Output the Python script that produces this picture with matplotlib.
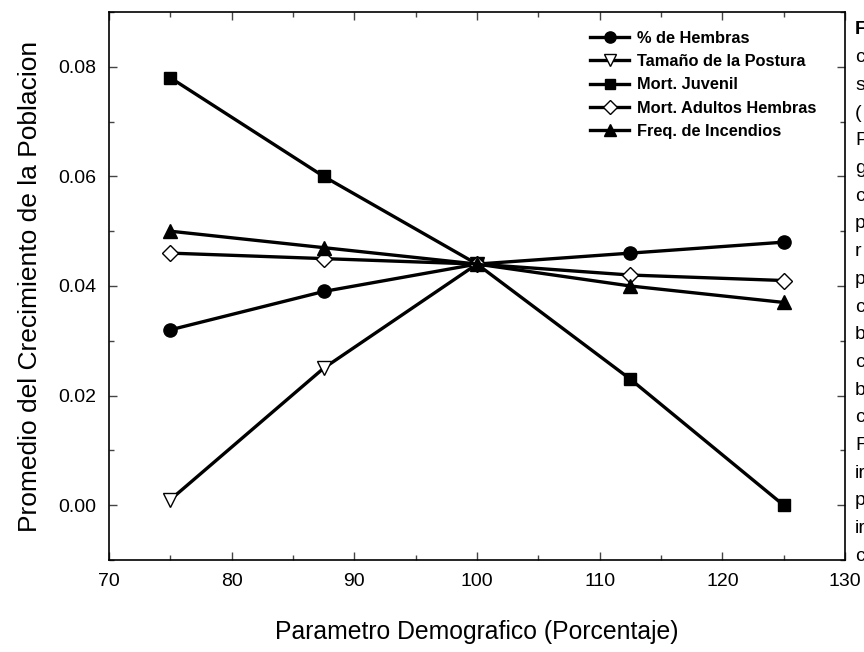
import numpy as np
import matplotlib
matplotlib.use("Agg")
import matplotlib.pyplot as plt
from matplotlib.ticker import MultipleLocator

# ---- data ----
x_vals = [75, 87.5, 100, 112.5, 125]
hembras = [0.032, 0.039, 0.044, 0.046, 0.048]
postura = [0.001, 0.025, 0.044, np.nan, np.nan]
juvenil = [0.078, 0.060, 0.044, 0.023, 0.000]
adultos = [0.046, 0.045, 0.044, 0.042, 0.041]
incendios = [0.050, 0.047, 0.044, 0.040, 0.037]
series_labels = ["% de Hembras", "Tamaño de la Postura", "Mort. Juvenil",
                 "Mort. Adultos Hembras", "Freq. de Incendios"]
x_ticks = [70, 80, 90, 100, 110, 120, 130]
y_ticks = [0.00, 0.02, 0.04, 0.06, 0.08]
side_text = ["F", "c", "s", "(", "P", "g", "c", "p", "r", "p", "c", "b", "c",
             "b", "c", "F", "ir", "p", "ir", "c"]

plt.rcParams['font.family'] = ['Liberation Sans', 'DejaVu Sans']

W, H = 864, 652
fig = plt.figure(figsize=(W / 100, H / 100), dpi=100)
ax = fig.add_axes([109 / W, 1 - 560 / H, (845 - 109) / W, (560 - 12) / H])

lw = 2.4
ax.plot(x_vals, hembras, color='black', lw=lw, marker='o', ms=9.5,
        mfc='black', mec='black', label=series_labels[0])
ax.plot(x_vals, postura, color='black', lw=lw, marker='v', ms=10,
        mfc='white', mec='black', mew=1.0, label=series_labels[1])
ax.plot(x_vals, juvenil, color='black', lw=lw, marker='s', ms=8.5,
        mfc='black', mec='black', label=series_labels[2])
ax.plot(x_vals, adultos, color='black', lw=lw, marker='D', ms=8.5,
        mfc='white', mec='black', mew=1.0, label=series_labels[3])
ax.plot(x_vals, incendios, color='black', lw=lw, marker='^', ms=10,
        mfc='black', mec='black', label=series_labels[4])

ax.set_xlim(70, 130)
ax.set_ylim(-0.01, 0.09)
ax.set_xticks(x_ticks)
ax.set_yticks(y_ticks)
ax.set_yticklabels([f"{v:.2f}" for v in y_ticks])
ax.xaxis.set_minor_locator(MultipleLocator(5))
ax.yaxis.set_minor_locator(MultipleLocator(0.01))
ax.tick_params(which='both', direction='in', top=True, right=True,
               labelsize=14, width=1.0, color='#444444')
ax.tick_params(which='major', length=6)
ax.tick_params(which='minor', length=3.5)
ax.tick_params(axis='x', which='major', pad=9)
ax.tick_params(axis='y', which='major', pad=9)
for s in ax.spines.values():
    s.set_linewidth(1.2)

ax.set_xlabel("Parametro Demografico (Porcentaje)", fontsize=17.8, labelpad=22)
ax.set_ylabel("Promedio del Crecimiento de la Poblacion", fontsize=19, labelpad=12)

leg = ax.legend(loc='upper left', bbox_to_anchor=(590 / W, 1 - 31 / H),
                bbox_transform=fig.transFigure, frameon=False,
                prop={'weight': 'bold', 'size': 11.8}, handlelength=2.4,
                handletextpad=0.45, labelspacing=0.5, borderpad=0,
                borderaxespad=0, markerscale=0.85)

for i, t in enumerate(side_text):
    fig.text(855 / W, 1 - (30 + i * 27.7) / H, t, fontsize=14,
             fontweight='bold' if i == 0 else 'normal',
             ha='left', va='center')

fig.savefig("out.png", dpi=100)
